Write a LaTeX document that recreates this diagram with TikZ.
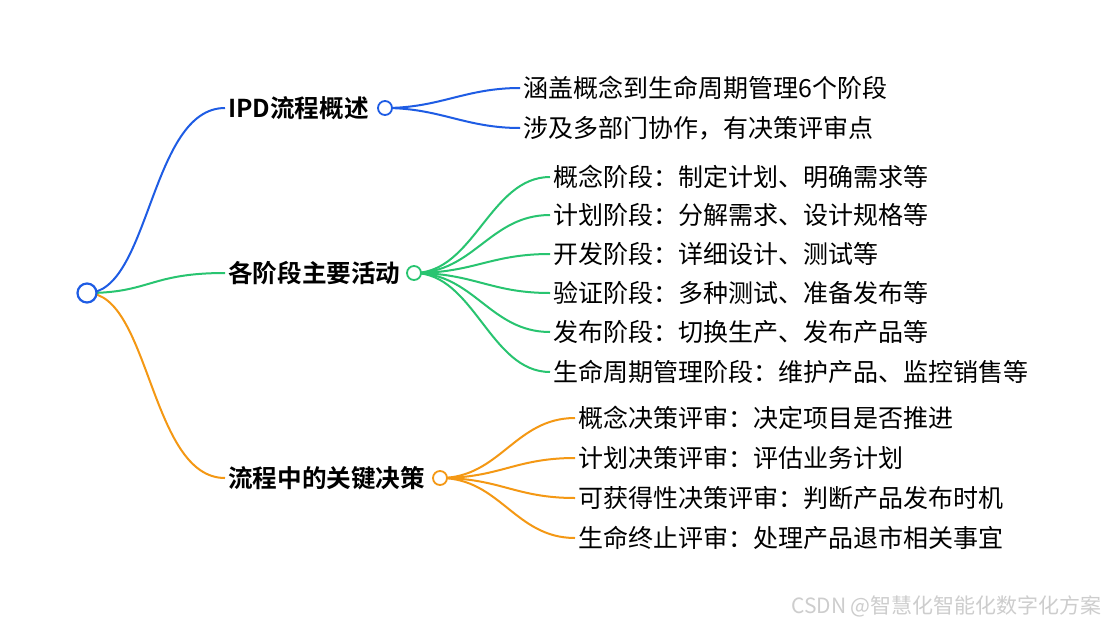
\documentclass[tikz,border=0pt]{standalone}
\usepackage{fontspec}
\usepackage{tikz}
\usetikzlibrary{positioning}
\newfontfamily\cjk{Noto Sans CJK SC}[BoldFont={Noto Sans CJK SC Bold}]
\definecolor{brBlue}{RGB}{30,92,228}
\definecolor{brGreen}{RGB}{40,196,112}
\definecolor{brOrange}{RGB}{244,152,20}
\definecolor{wmGray}{RGB}{205,205,205}

\begin{document}
\begin{tikzpicture}[x=1pt,y=-1pt,font=\cjk\fontsize{25}{28}\selectfont,
  rc/.style={circle,minimum size=19pt,inner sep=0pt,line width=2.2pt,fill=white},
  sc/.style={circle,minimum size=14pt,inner sep=0pt,line width=1.8pt,fill=white},
  hd/.style={anchor=west,inner sep=3pt,font=\cjk\bfseries\fontsize{24.6}{28}\selectfont},
  lf/.style={anchor=west,inner sep=3pt},
  lk/.style={line width=2pt}]

  \useasboundingbox[fill=white] (0,0) rectangle (1107,627);

  % root and main branches
  \node[hd] (b1) at (225,108) {IPD流程概述};
  \node[hd] (b2) at (225,273) {各阶段主要活动};
  \node[hd] (b3) at (225,478) {流程中的关键决策};

  \draw[lk,brBlue]   (87,293) .. controls (150,293) and (150,108) .. (b1.west);
  \draw[lk,brGreen]  (87,293) .. controls (150,293) and (150,273) .. (b2.west);
  \draw[lk,brOrange] (87,293) .. controls (150,293) and (150,478) .. (b3.west);
  \node[rc,draw=brBlue] (r) at (87,293) {};

  % overview
  \node[lf] (t11) at (520,88)  {涵盖概念到生命周期管理6个阶段};
  \node[lf] (t12) at (520,128) {涉及多部门协作，有决策评审点};
  \draw[lk,brBlue] (385,108) .. controls +(55,0) and +(-55,0) .. (t11.west);
  \draw[lk,brBlue] (385,108) .. controls +(55,0) and +(-55,0) .. (t12.west);
  \node[sc,draw=brBlue] (c1) at (385,108) {};

  % stages
  \node[lf] (t21) at (550,177) {概念阶段：制定计划、明确需求等};
  \node[lf] (t22) at (550,215) {计划阶段：分解需求、设计规格等};
  \node[lf] (t23) at (550,254) {开发阶段：详细设计、测试等};
  \node[lf] (t24) at (550,293) {验证阶段：多种测试、准备发布等};
  \node[lf] (t25) at (550,332) {发布阶段：切换生产、发布产品等};
  \node[lf] (t26) at (550,372) {生命周期管理阶段：维护产品、监控销售等};
  \draw[lk,brGreen] (414,273) .. controls +(60,0) and +(-60,0) .. (t21.west);
  \draw[lk,brGreen] (414,273) .. controls +(60,0) and +(-60,0) .. (t22.west);
  \draw[lk,brGreen] (414,273) .. controls +(60,0) and +(-60,0) .. (t23.west);
  \draw[lk,brGreen] (414,273) .. controls +(60,0) and +(-60,0) .. (t24.west);
  \draw[lk,brGreen] (414,273) .. controls +(60,0) and +(-60,0) .. (t25.west);
  \draw[lk,brGreen] (414,273) .. controls +(60,0) and +(-60,0) .. (t26.west);
  \node[sc,draw=brGreen] (c2) at (414,273) {};

  % decisions
  \node[lf] (t31) at (575,418) {概念决策评审：决定项目是否推进};
  \node[lf] (t32) at (575,458) {计划决策评审：评估业务计划};
  \node[lf] (t33) at (575,498) {可获得性决策评审：判断产品发布时机};
  \node[lf] (t34) at (575,538) {生命终止评审：处理产品退市相关事宜};
  \draw[lk,brOrange] (440,478) .. controls +(60,0) and +(-60,0) .. (t31.west);
  \draw[lk,brOrange] (440,478) .. controls +(60,0) and +(-60,0) .. (t32.west);
  \draw[lk,brOrange] (440,478) .. controls +(60,0) and +(-60,0) .. (t33.west);
  \draw[lk,brOrange] (440,478) .. controls +(60,0) and +(-60,0) .. (t34.west);
  \node[sc,draw=brOrange] (c3) at (440,478) {};

  \node[anchor=east,text=wmGray,inner sep=0pt,font=\cjk\fontsize{21}{24}\selectfont] (wm) at (1102,606) {CSDN @智慧化智能化数字化方案};
\end{tikzpicture}
\end{document}
